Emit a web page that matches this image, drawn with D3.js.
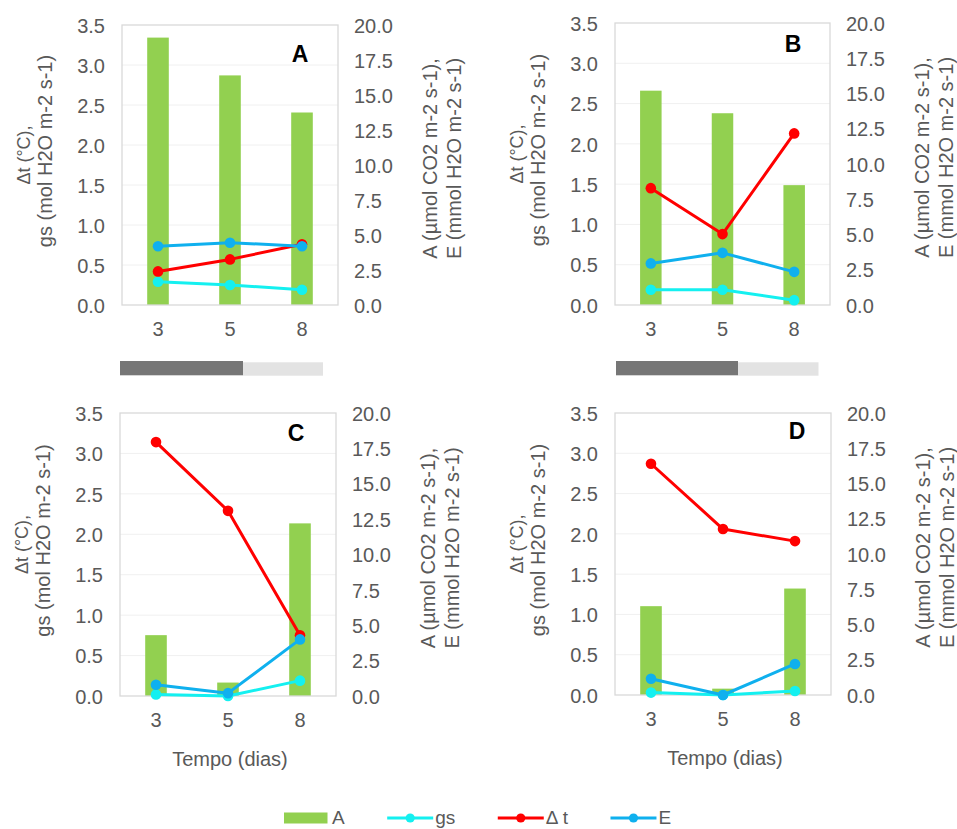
<!DOCTYPE html>
<html>
<head>
<meta charset="utf-8">
<script src="https://cdn.jsdelivr.net/npm/d3@7"></script>
<style>
  body { margin: 0; background: #fff; }
  svg { display: block; font-family: "Liberation Sans", Arial, sans-serif; }
</style>
</head>
<body>
<svg id="chart" width="957" height="829"></svg>
<script>
// Sampling days (x categories)
const days = ["3", "5", "8"];
const panelNames = ["A", "B", "C", "D"];

// Axis ticks
const leftTicks = [0, 0.5, 1.0, 1.5, 2.0, 2.5, 3.0, 3.5];
const rightTicks = [0, 2.5, 5.0, 7.5, 10.0, 12.5, 15.0, 17.5, 20.0];

// Net assimilation A (µmol CO2 m-2 s-1), right axis — one row per panel A..D
const assimilation = [
  [19.1, 16.4, 13.75],
  [15.2, 13.6, 8.5],
  [4.3, 0.95, 12.2],
  [6.3, 0.45, 7.55]
];
// Stomatal conductance gs (mol H2O m-2 s-1), left axis
const conductance = [
  [0.29, 0.25, 0.19],
  [0.19, 0.19, 0.06],
  [0.02, 0.0, 0.19],
  [0.03, 0.0, 0.05]
];
// Leaf-air temperature difference Δt (°C), left axis
const deltaT = [
  [0.42, 0.57, 0.76],
  [1.45, 0.88, 2.13],
  [3.14, 2.29, 0.75],
  [2.87, 2.06, 1.91]
];
// Transpiration E (mmol H2O m-2 s-1), right axis
const transpiration = [
  [4.2, 4.45, 4.2],
  [2.95, 3.7, 2.35],
  [0.8, 0.2, 4.0],
  [1.15, 0.0, 2.2]
];

// Panel frames and letter positions
const layout = [
  { x: 122, y: 25,  w: 216, h: 280, lx: 300, ly: 62,  xTitle: false },
  { x: 615, y: 23,  w: 215, h: 282, lx: 793, ly: 52,  xTitle: false },
  { x: 120, y: 413, w: 216, h: 283, lx: 296, ly: 441, xTitle: true },
  { x: 615, y: 413, w: 216, h: 282, lx: 797, ly: 439, xTitle: true }
];

const colors = { A: "#92d050", gs: "#14f0f0", dt: "#ff0000", E: "#0fb0ee" };
const textColor = "#595959";
const fontSize = 20;

const svg = d3.select("#chart");

panelNames.forEach((name, i) => {
  const L = layout[i];
  const g = svg.append("g").attr("transform", `translate(${L.x},${L.y})`);

  const x = d3.scaleBand().domain(days).range([0, L.w]).paddingInner(0.7).paddingOuter(0.35);
  const cx = d => x(d) + x.bandwidth() / 2;
  const yL = d3.scaleLinear().domain([0, 3.5]).range([L.h, 0]);
  const yR = d3.scaleLinear().domain([0, 20]).range([L.h, 0]);

  // gridlines
  g.append("g").selectAll("line").data(leftTicks.slice(1, -1)).join("line")
    .attr("x1", 0).attr("x2", L.w)
    .attr("y1", d => yL(d)).attr("y2", d => yL(d))
    .attr("stroke", "#f0f0f0").attr("stroke-width", 1);

  // bars (A)
  g.append("g").selectAll("rect").data(assimilation[i]).join("rect")
    .attr("x", (d, j) => x(days[j]))
    .attr("width", x.bandwidth())
    .attr("y", d => yR(d))
    .attr("height", d => L.h - yR(d))
    .attr("fill", colors.A);

  // plot frame
  g.append("rect").attr("x", 0).attr("y", 0).attr("width", L.w).attr("height", L.h)
    .attr("fill", "none").attr("stroke", "#d9d9d9").attr("stroke-width", 1.3);

  // left axis
  const axL = d3.axisLeft(yL).tickValues(leftTicks).tickFormat(d3.format(".1f")).tickSize(0).tickPadding(17);
  const gL = g.append("g").call(axL);
  gL.select(".domain").remove();
  gL.selectAll("text").attr("fill", textColor).attr("font-size", fontSize)
    .attr("font-family", '"Liberation Sans", Arial, sans-serif').attr("dy", "0.36em");

  // right axis
  const axR = d3.axisRight(yR).tickValues(rightTicks).tickFormat(d3.format(".1f")).tickSize(0).tickPadding(16);
  const gR = g.append("g").attr("transform", `translate(${L.w},0)`).call(axR);
  gR.select(".domain").remove();
  gR.selectAll("text").attr("fill", textColor).attr("font-size", fontSize)
    .attr("font-family", '"Liberation Sans", Arial, sans-serif').attr("dy", "0.36em");

  // bottom axis
  const axB = d3.axisBottom(x).tickSize(0).tickPadding(17);
  const gB = g.append("g").attr("transform", `translate(0,${L.h})`).call(axB);
  gB.select(".domain").remove();
  gB.selectAll("text").attr("fill", textColor).attr("font-size", fontSize)
    .attr("font-family", '"Liberation Sans", Arial, sans-serif');

  // line series
  const series = [
    { vals: conductance[i], y: yL, color: colors.gs },
    { vals: deltaT[i], y: yL, color: colors.dt },
    { vals: transpiration[i], y: yR, color: colors.E }
  ];
  series.forEach(s => {
    const line = d3.line().x((d, j) => cx(days[j])).y(d => s.y(d));
    g.append("path").datum(s.vals).attr("d", line)
      .attr("fill", "none").attr("stroke", s.color).attr("stroke-width", 3)
      .attr("stroke-linejoin", "round");
    g.append("g").selectAll("circle").data(s.vals).join("circle")
      .attr("cx", (d, j) => cx(days[j])).attr("cy", d => s.y(d)).attr("r", 5.3)
      .attr("fill", s.color);
  });

  // panel letter
  svg.append("text").attr("x", L.lx).attr("y", L.ly).attr("text-anchor", "middle")
    .attr("font-size", 23).attr("font-weight", "bold").attr("fill", "#000").text(name);

  // left axis title (two lines)
  const midY = L.y + L.h / 2;
  svg.append("text")
    .attr("transform", `translate(${L.x - 98},${midY - 10}) rotate(-90)`)
    .attr("text-anchor", "middle").attr("dominant-baseline", "central")
    .attr("font-size", 18).attr("fill", textColor).text("Δt (°C),");
  svg.append("text")
    .attr("transform", `translate(${L.x - 77},${midY - 14}) rotate(-90)`)
    .attr("text-anchor", "middle").attr("dominant-baseline", "central")
    .attr("font-size", fontSize).attr("fill", textColor).text("gs (mol H2O m-2 s-1)");

  // right axis title (two lines)
  const rx = L.x + L.w;
  svg.append("text")
    .attr("transform", `translate(${rx + 92},${midY - 6.5}) rotate(-90)`)
    .attr("text-anchor", "middle").attr("dominant-baseline", "central")
    .attr("font-size", fontSize).attr("fill", textColor).text("A (µmol CO2 m-2 s-1),");
  svg.append("text")
    .attr("transform", `translate(${rx + 115.5},${midY - 6.5}) rotate(-90)`)
    .attr("text-anchor", "middle").attr("dominant-baseline", "central")
    .attr("font-size", fontSize).attr("fill", textColor).text("E (mmol H2O m-2 s-1)");

  if (L.xTitle) {
    svg.append("text").attr("x", L.x + L.w / 2 + 2).attr("y", L.y + L.h + 70)
      .attr("text-anchor", "middle").attr("font-size", fontSize).attr("fill", textColor)
      .text("Tempo (dias)");
  }
});

// grey progress strips between the rows
const strips = [
  { x: 120, split: 243, end: 323, y: 361 },
  { x: 616, split: 738, end: 818.5, y: 361 }
];
strips.forEach(s => {
  svg.append("rect").attr("x", s.split).attr("y", s.y + 1.3).attr("width", s.end - s.split).attr("height", 13.4).attr("fill", "#e3e3e3");
  svg.append("rect").attr("x", s.x).attr("y", s.y).attr("width", s.split - s.x).attr("height", 14.3).attr("fill", "#767676");
});

// legend
const legendItems = [
  { label: "A", color: colors.A, type: "bar" },
  { label: "gs", color: colors.gs, type: "line" },
  { label: "Δ t", color: colors.dt, type: "line" },
  { label: "E", color: colors.E, type: "line" }
];
const legendY = 818;
let lx = 284;
legendItems.forEach(it => {
  const g = svg.append("g");
  if (it.type === "bar") {
    g.append("rect").attr("x", lx).attr("y", legendY - 5.5).attr("width", 43.5).attr("height", 11).attr("fill", it.color);
  } else {
    g.append("line").attr("x1", lx).attr("x2", lx + 46).attr("y1", legendY).attr("y2", legendY)
      .attr("stroke", it.color).attr("stroke-width", 3);
    g.append("circle").attr("cx", lx + 23).attr("cy", legendY).attr("r", 4.6).attr("fill", it.color);
  }
  const t = g.append("text").attr("x", lx + 48).attr("y", legendY).attr("dy", "0.34em")
    .attr("font-size", 19).attr("fill", textColor).text(it.label);
  lx = lx + 48 + t.node().getComputedTextLength() + 42.5;
});
</script>
</body>
</html>
